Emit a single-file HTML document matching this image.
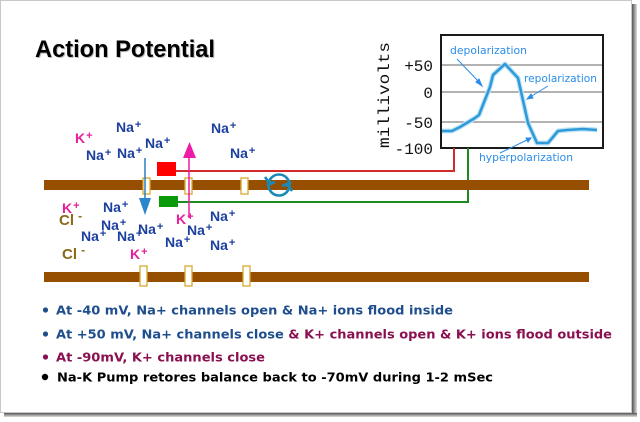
<!DOCTYPE html>
<html><head><meta charset="utf-8"><style>
html,body{margin:0;padding:0;background:#fff;}
svg{display:block;}
</style></head><body>
<svg width="640" height="422" viewBox="0 0 640 422" xmlns="http://www.w3.org/2000/svg">
<defs>
<linearGradient id="shR" x1="0" x2="1" y1="0" y2="0"><stop offset="0" stop-color="#555"/><stop offset="1" stop-color="#ddd"/></linearGradient>
<linearGradient id="shB" x1="0" x2="0" y1="0" y2="1"><stop offset="0" stop-color="#555"/><stop offset="1" stop-color="#ddd"/></linearGradient>
</defs>
<rect x="0" y="0" width="640" height="422" fill="#fff"/>
<rect x="632" y="4" width="5" height="412" fill="url(#shR)"/>
<rect x="4" y="413" width="633" height="4" fill="url(#shB)"/>
<rect x="0.5" y="0.5" width="631" height="412" fill="#fff" stroke="#c8c8c8" stroke-width="1"/>

<text x="36" y="58" font-family="Liberation Sans, Arial, sans-serif" font-weight="bold" font-size="24" fill="#bbb" textLength="180" lengthAdjust="spacingAndGlyphs">Action Potential</text>
<text x="35" y="57" font-family="Liberation Sans, Arial, sans-serif" font-weight="bold" font-size="24" fill="#000" textLength="180" lengthAdjust="spacingAndGlyphs">Action Potential</text>

<rect x="441" y="35" width="162" height="113" fill="#fff" stroke="#1a1a1a" stroke-width="2"/>
<g stroke="#999" stroke-width="1.5">
<line x1="442" y1="65" x2="602" y2="65"/>
<line x1="442" y1="92" x2="602" y2="92"/>
<line x1="442" y1="122" x2="602" y2="122"/>
</g>
<polyline points="442,131 452,131 460,127 475,118 479,115 490,87 493,75 505,64 518,78 528,123 537,143 548,143 558,131 567,130 583,129 597,130" fill="none" stroke="#bfe3f7" stroke-width="5" stroke-linejoin="round"/>
<polyline points="442,131 452,131 460,127 475,118 479,115 490,87 493,75 505,64 518,78 528,123 537,143 548,143 558,131 567,130 583,129 597,130" fill="none" stroke="#2f9ad8" stroke-width="2.6" stroke-linejoin="round"/>
<g font-family="DejaVu Sans, Verdana, sans-serif" font-size="11" fill="#2a8de8">
<text x="450" y="54" textLength="77" lengthAdjust="spacingAndGlyphs">depolarization</text>
<text x="524" y="82" textLength="73" lengthAdjust="spacingAndGlyphs">repolarization</text>
<text x="479" y="161" textLength="94" lengthAdjust="spacingAndGlyphs">hyperpolarization</text>
</g>
<g stroke="#2a8de8" stroke-width="1" fill="#2a8de8">
<line x1="457" y1="59" x2="480" y2="83"/><polygon points="482,86 476,82 479,79"/>
<line x1="548" y1="86" x2="530" y2="97"/><polygon points="527,99 531,94 533,98"/>
<line x1="500" y1="153" x2="527" y2="140"/><polygon points="531,138 526,138 528,142"/>
</g>
<g font-family="Liberation Mono, Courier New, monospace" font-size="16" fill="#111" text-anchor="end">
<text x="433" y="71">+50</text>
<text x="433" y="98">0</text>
<text x="433" y="128">-50</text>
<text x="433" y="154">-100</text>
</g>
<text transform="translate(389,95) rotate(-90)" text-anchor="middle" font-family="Liberation Mono, Courier New, monospace" font-size="16" fill="#111" textLength="106" lengthAdjust="spacingAndGlyphs">millivolts</text>

<polyline points="176,171 454,171 454,148" fill="none" stroke="#d42a2a" stroke-width="2"/>
<rect x="157" y="162" width="19" height="14" fill="#f00"/>
<polyline points="178,202 468,202 468,148" fill="none" stroke="#1e8a1e" stroke-width="2"/>
<rect x="159" y="196" width="19" height="11" fill="#0a9a0a"/>

<rect x="44" y="180" width="545" height="10" fill="#964f00"/>
<rect x="44" y="272" width="545" height="10" fill="#964f00"/>
<g fill="#fff" stroke="#d8a830" stroke-width="1.3">
<rect x="143" y="178" width="7" height="16"/>
<rect x="185" y="178" width="7" height="16"/>
<rect x="241" y="178" width="7" height="16"/>
<rect x="140" y="266" width="7" height="20"/>
<rect x="185" y="266" width="7" height="20"/>
<rect x="243" y="266" width="7" height="20"/>
</g>

<g fill="none" stroke="#1a8ab8" stroke-width="2.6">
<circle cx="279" cy="185" r="10.5"/>
<path d="M265,177 l5,7 l5,-2 M267,186 l5,-4"/>
<path d="M292,191 l-5,-7 l-5,2 M291,182 l-5,4"/>
</g>

<line x1="145" y1="158" x2="145" y2="200" stroke="#2a7ec0" stroke-width="1.5"/>
<polygon points="139,198 151,198 145,215" fill="#2a86cc"/>
<line x1="189" y1="218" x2="189" y2="156" stroke="#ee1aa0" stroke-width="1.5"/>
<polygon points="183,158 196,158 189.5,142" fill="#ee1aa8"/>

<g font-family="Liberation Sans, Arial, sans-serif" font-weight="bold" font-size="14" fill="#1c40a0">
<text x="116" y="132">Na<tspan font-size="11" dy="-4" dx="1">+</tspan></text>
<text x="86" y="160">Na<tspan font-size="11" dy="-4" dx="1">+</tspan></text>
<text x="117" y="158">Na<tspan font-size="11" dy="-4" dx="1">+</tspan></text>
<text x="145" y="148">Na<tspan font-size="11" dy="-4" dx="1">+</tspan></text>
<text x="211" y="133">Na<tspan font-size="11" dy="-4" dx="1">+</tspan></text>
<text x="230" y="158">Na<tspan font-size="11" dy="-4" dx="1">+</tspan></text>
<text x="103" y="212">Na<tspan font-size="11" dy="-4" dx="1">+</tspan></text>
<text x="101" y="230">Na<tspan font-size="11" dy="-4" dx="1">+</tspan></text>
<text x="81" y="241">Na<tspan font-size="11" dy="-4" dx="1">+</tspan></text>
<text x="117" y="241">Na<tspan font-size="11" dy="-4" dx="1">+</tspan></text>
<text x="138" y="234">Na<tspan font-size="11" dy="-4" dx="1">+</tspan></text>
<text x="210" y="221">Na<tspan font-size="11" dy="-4" dx="1">+</tspan></text>
<text x="187" y="235">Na<tspan font-size="11" dy="-4" dx="1">+</tspan></text>
<text x="165" y="247">Na<tspan font-size="11" dy="-4" dx="1">+</tspan></text>
<text x="210" y="250">Na<tspan font-size="11" dy="-4" dx="1">+</tspan></text>
</g>
<g font-family="Liberation Sans, Arial, sans-serif" font-weight="bold" font-size="14" fill="#e6209a">
<text x="75" y="143">K<tspan font-size="11" dy="-4" dx="1">+</tspan></text>
<text x="62" y="213">K<tspan font-size="11" dy="-4" dx="1">+</tspan></text>
<text x="176" y="224">K<tspan font-size="11" dy="-4" dx="1">+</tspan></text>
<text x="130" y="259">K<tspan font-size="11" dy="-4" dx="1">+</tspan></text>
</g>
<g font-family="Liberation Sans, Arial, sans-serif" font-weight="bold" font-size="15" fill="#8a6a1a">
<text x="59" y="225">Cl <tspan font-size="12" dy="-5">-</tspan></text>
<text x="62" y="259">Cl <tspan font-size="12" dy="-5">-</tspan></text>
</g>

<g font-family="DejaVu Sans, Verdana, sans-serif" font-weight="bold" font-size="12">
<circle cx="45.5" cy="310" r="2.6" fill="#1f4e8c"/>
<text x="56" y="314.5" fill="#1f4e8c" textLength="397" lengthAdjust="spacingAndGlyphs">At -40 mV, Na+ channels open &amp; Na+ ions flood inside</text>
<circle cx="45.5" cy="334" r="2.6" fill="#1f4e8c"/>
<text x="56" y="338.5" fill="#1f4e8c" textLength="556" lengthAdjust="spacingAndGlyphs">At +50 mV, Na+ channels close<tspan fill="#8a1050"> &amp; K+ channels open &amp; K+ ions flood outside</tspan></text>
<circle cx="45.5" cy="357" r="2.6" fill="#8a1050"/>
<text x="56" y="361.5" fill="#8a1050" textLength="209" lengthAdjust="spacingAndGlyphs">At -90mV, K+ channels close</text>
<circle cx="45" cy="377" r="3.2" fill="#000"/>
<text x="57" y="381.5" fill="#000" textLength="436" lengthAdjust="spacingAndGlyphs">Na-K Pump retores balance back to -70mV during 1-2 mSec</text>
</g>
</svg>
</body></html>
